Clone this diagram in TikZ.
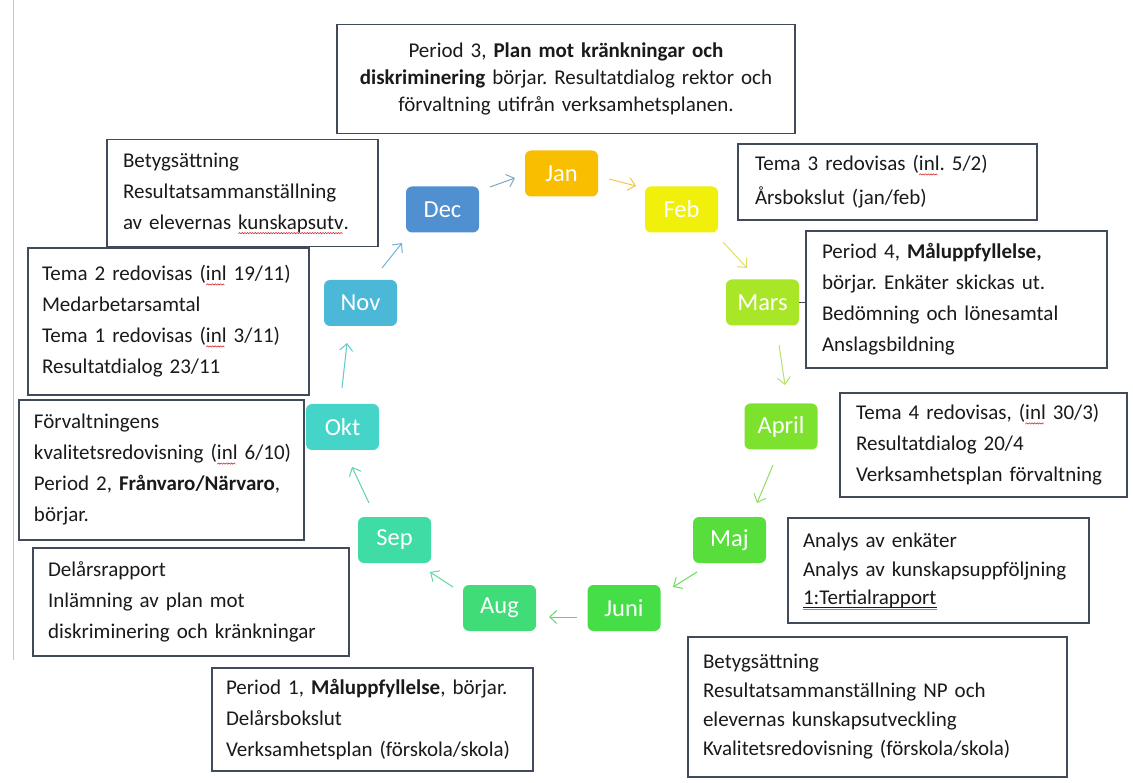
\documentclass[tikz,border=0pt]{standalone}
\usepackage{fontspec}
\setmainfont{Carlito}[WordSpace=0.88]
\usetikzlibrary{arrows.meta,calc}
\definecolor{boxgray}{RGB}{64,74,88}
\definecolor{txt}{RGB}{26,26,26}
\definecolor{wavered}{RGB}{215,40,40}
\definecolor{ulblue}{RGB}{120,140,180}
\newsavebox\wbox
\newdimen\wvx
\newdimen\wvw
\newcommand\wavyline[1]{%
  \begin{pgfpicture}%
    \pgfsetlinewidth{0.55pt}\pgfsetstrokecolor{wavered}%
    \wvx=0pt \wvw=#1\relax \advance\wvw by -2.6pt
    \pgfpathmoveto{\pgfpoint{0pt}{0pt}}%
    \loop\ifdim\wvx<\wvw
      \pgfpathlineto{\pgfpoint{\wvx+1.3pt}{1.3pt}}%
      \advance\wvx by 2.6pt
      \pgfpathlineto{\pgfpoint{\wvx}{0pt}}%
    \repeat
    \pgfusepath{stroke}%
  \end{pgfpicture}}
\newcommand\dbllines[1]{%
  \begin{pgfpicture}%
    \pgfsetlinewidth{0.9pt}%
    \pgfsetstrokecolor{txt}%
    \pgfpathmoveto{\pgfpoint{0pt}{2.5pt}}\pgfpathlineto{\pgfpoint{#1}{2.5pt}}\pgfusepath{stroke}%
    \pgfsetstrokecolor{ulblue}%
    \pgfpathmoveto{\pgfpoint{0pt}{0pt}}\pgfpathlineto{\pgfpoint{#1}{0pt}}\pgfusepath{stroke}%
  \end{pgfpicture}}
\newcommand\redwave[1]{\leavevmode{\sbox\wbox{#1}\rlap{\raisebox{-4.5pt}[0pt][0pt]{\wavyline{\wd\wbox}}}\usebox\wbox}}
\newcommand\dblul[1]{\leavevmode{\sbox\wbox{#1}\rlap{\raisebox{-5.5pt}[0pt][0pt]{\dbllines{\wd\wbox}}}\usebox\wbox}}
\definecolor{cjan}{RGB}{250,190,0}
\definecolor{cfeb}{RGB}{240,240,10}
\definecolor{cmar}{RGB}{170,230,40}
\definecolor{capr}{RGB}{125,226,45}
\definecolor{cmaj}{RGB}{88,222,60}
\definecolor{cjun}{RGB}{70,222,70}
\definecolor{caug}{RGB}{64,220,120}
\definecolor{csep}{RGB}{64,220,165}
\definecolor{cokt}{RGB}{68,212,200}
\definecolor{cnov}{RGB}{76,184,216}
\definecolor{cdec}{RGB}{80,144,208}
\definecolor{a1}{RGB}{128,168,192}
\definecolor{a2}{RGB}{240,200,80}
\definecolor{a3}{RGB}{224,224,96}
\definecolor{a4}{RGB}{184,224,112}
\definecolor{a5}{RGB}{144,224,96}
\definecolor{a6}{RGB}{112,216,96}
\definecolor{a7}{RGB}{96,216,112}
\definecolor{a8}{RGB}{96,216,160}
\definecolor{a9}{RGB}{96,208,176}
\definecolor{a10}{RGB}{96,200,208}
\definecolor{a11}{RGB}{112,176,216}
\begin{document}
\frenchspacing
\begin{tikzpicture}[x=1pt,y=1pt,
  month/.style={rounded corners=6pt, minimum width=73pt, minimum height=46pt, text=white,
    font=\fontsize{24.5}{27}\selectfont, inner sep=0pt},
  tbox/.style={draw=boxgray, line width=1.8pt, fill=white, align=left, inner ysep=0pt,
    inner xsep=15pt, font=\fontsize{21}{31}\selectfont, text=txt},
  arr/.style={-{Straight Barb[length=7pt,width=13pt]}, line width=1pt, draw=#1}
]
\fill[white] (0,0) rectangle (1133,-783);
\useasboundingbox (0,0) rectangle (1133,-783);
\draw[gray!45, line width=1pt] (13,0) -- (13,-660);

% month nodes
\node[month, fill=cjan] (jan) at (561.5,-173.5) {Jan};
\node[month, fill=cfeb] (feb) at (681.5,-209.5) {Feb};
\node[month, fill=cmar] (mars) at (762.5,-302.5) {Mars};
\node[month, fill=capr] (apr) at (781,-426.5) {April};
\node[month, fill=cmaj] (maj) at (729.5,-540) {Maj};
\node[month, fill=cjun] (jun) at (624,-608) {Juni};
\node[month, fill=caug] (aug) at (499.5,-608) {Aug};
\node[month, fill=csep] (sep) at (394.5,-540) {Sep};
\node[month, fill=cokt] (okt) at (342.5,-427) {Okt};
\node[month, fill=cnov] (nov) at (360.5,-303) {Nov};
\node[month, fill=cdec] (dec) at (442.5,-209.5) {Dec};

% arrows
\draw[arr=a1] ($(dec)+(47.5,22.5)$) -- ($(jan)+(-46.5,-4.5)$);
\draw[arr=a2] ($(jan)+(47.5,-5.5)$) -- ($(feb)+(-45.5,23.5)$);
\draw[arr=a3] ($(feb)+(41.5,-32.5)$) -- ($(mars)+(-15.5,34.5)$);
\draw[arr=a4] ($(mars)+(16.5,-42.5)$) -- ($(apr)+(4,41.5)$);
\draw[arr=a5] ($(apr)+(-8,-38.5)$) -- ($(maj)+(27.5,37)$);
\draw[arr=a6] ($(maj)+(-32.5,-32)$) -- ($(jun)+(49,21)$);
\draw[arr=a7] ($(jun)+(-47,-9)$) -- ($(aug)+(49.5,-9)$);
\draw[arr=a8] ($(aug)+(-46.5,21)$) -- ($(sep)+(35.5,-32)$);
\draw[arr=a9] ($(sep)+(-25.5,37)$) -- ($(okt)+(9.5,-40)$);
\draw[arr=a10] ($(okt)+(-0.5,39)$) -- ($(nov)+(-13.5,-40)$);
\draw[arr=a11] ($(nov)+(21.5,35)$) -- ($(dec)+(-40.5,-33.5)$);

% text boxes
\node[tbox, align=center, text width=428pt, minimum height=109pt, font=\fontsize{21}{27}\selectfont] (p3) at (566,-79)
  {Period 3, \textbf{Plan mot kränkningar och}\\ \textbf{diskriminering} börjar. Resultatdialog rektor och\\ förvaltning utifrån verksamhetsplanen.};
\node[tbox, inner xsep=16pt, text width=239pt, minimum height=107pt] (dectxt) at (242.5,-193)
  {Betygsättning\\Resultatsammanställning\\av elevernas \redwave{kunskapsutv}.};
\node[tbox, inner xsep=14pt, text width=253pt, minimum height=147pt] (novtxt) at (168.5,-321.5)
  {Tema 2 redovisas (\redwave{inl} 19/11)\\Medarbetarsamtal\\Tema 1 redovisas (\redwave{inl} 3/11)\\Resultatdialog 23/11};
\node[tbox, inner xsep=15pt, text width=255pt, minimum height=140pt] (okttxt) at (161.5,-470)
  {Förvaltningens\\\mbox{kvalitetsredovisning (\redwave{inl} 6/10)}\\Period 2, \textbf{Frånvaro/Närvaro},\\börjar.};
\node[tbox, text width=286pt, minimum height=108pt] (septxt) at (191,-602)
  {Delårsrapport\\Inlämning av plan mot\\diskriminering och kränkningar};
\node[tbox, inner xsep=14pt, text width=293pt, minimum height=103pt] (augtxt) at (372.5,-719.5)
  {Period 1, \textbf{Måluppfyllelse}, börjar.\\Delårsbokslut\\Verksamhetsplan (förskola/skola)};
\node[tbox, text width=349pt, minimum height=140pt, font=\fontsize{21}{29}\selectfont] (juntxt) at (877.5,-707)
  {Betygsättning\\Resultatsammanställning NP och\\elevernas kunskapsutveckling\\Kvalitetsredovisning (förskola/skola)};
\node[tbox, text width=271pt, minimum height=105pt, font=\fontsize{21}{28.5}\selectfont] (majtxt) at (938.5,-570.5)
  {Analys av enkäter\\Analys av kunskapsuppföljning\\\dblul{1:Tertialrapport}};
\node[tbox, inner xsep=16pt, text width=255pt, minimum height=104pt] (aprtxt) at (983.5,-445)
  {Tema 4 redovisas, (\redwave{inl} 30/3)\\Resultatdialog 20/4\\Verksamhetsplan förvaltning};
\node[tbox, inner xsep=16pt, text width=269pt, minimum height=137pt] (p4) at (956.5,-299.5)
  {Period 4, \textbf{Måluppfyllelse,}\\börjar. Enkäter skickas ut.\\Bedömning och lönesamtal\\Anslagsbildning};
\node[tbox, inner xsep=17pt, text width=265pt, minimum height=76pt, font=\fontsize{21}{34}\selectfont] (febtxt) at (887.5,-182)
  {Tema 3 redovisas (\redwave{inl}. 5/2)\\Årsbokslut (jan/feb)};

\draw[boxgray, line width=1pt] (mars.east) -- (mars.east -| p4.west);
\end{tikzpicture}
\end{document}
